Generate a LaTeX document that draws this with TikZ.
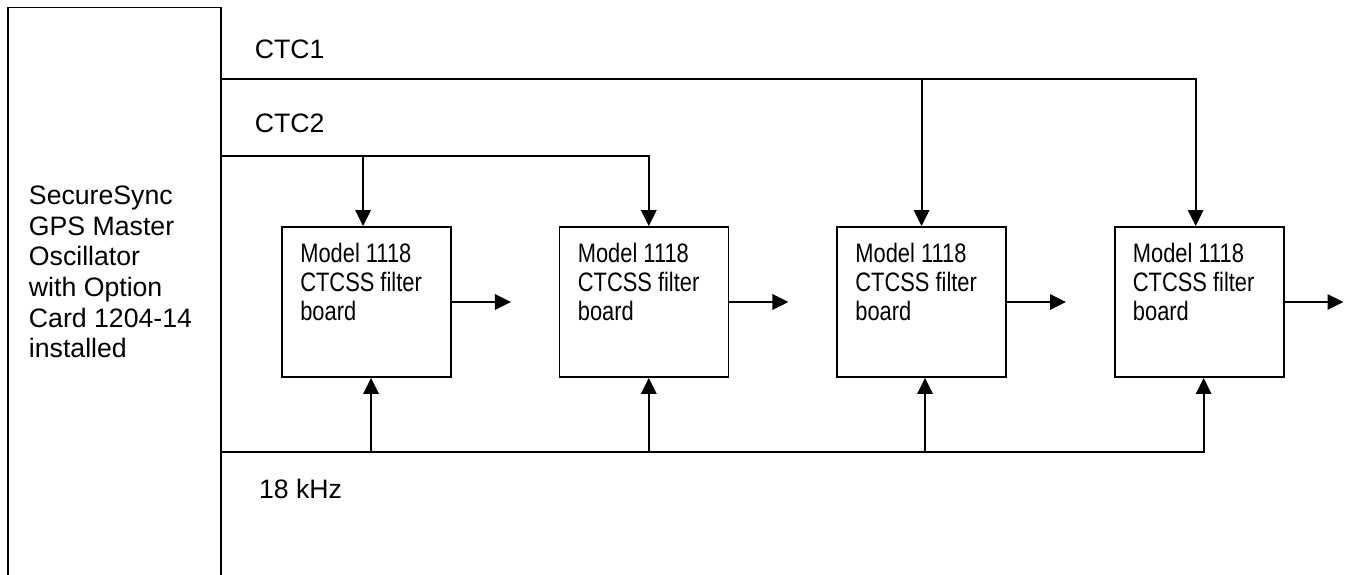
\documentclass[tikz,border=0pt]{standalone}
\usepackage{fontspec}
\setmainfont{Liberation Sans}
\newfontfamily\narrowsf[FakeStretch=0.82]{Liberation Sans}
\usetikzlibrary{arrows.meta, positioning}

\tikzset{
  board/.style={draw, line width=1.4pt, minimum width=126.75pt, minimum height=112.5pt, inner sep=0pt},
  boardtext/.style={inner sep=0pt, align=left, font=\narrowsf\fontsize{20}{21.75}\selectfont},
  sig/.style={line width=1.5pt, -{Triangle[length=12pt, width=11.5pt]}},
  lbl/.style={inner sep=0pt, anchor=base west, font=\fontsize{20}{24}\selectfont}
}

\begin{document}
\begin{tikzpicture}[x=0.75pt, y=-0.75pt]
	\clip (0,0) rectangle (1347,575);

	% Draw the oscillator box (runs off the bottom)
	\node[draw, line width=1.1pt, minimum width=159.75pt, minimum height=459pt, inner sep=0pt] (osc) at (114.5,313.7) {};
	\node[anchor=north west, inner sep=0pt, align=left, font=\fontsize{20}{23}\selectfont] (osctext) at (28.7,185.5)
		{SecureSync\\GPS Master\\Oscillator\\with Option\\Card 1204-14\\installed};

	% Draw the filter boards
	\node[board] (b1) at (366.5,302) {};
	\node[board, right=80pt of b1] (b2) {};
	\node[board, right=80pt of b2] (b3) {};
	\node[board, right=80pt of b3] (b4) {};

	\foreach \b in {b1,b2,b3,b4} {
		\node[boardtext, below right=12.75pt and 14.25pt of \b.north west] (\b text) {Model 1118\\CTCSS filter\\board};
		\coordinate[right=44.25pt of \b] (\b out);
		\draw[sig] (\b) -- (\b out);
	}

	% Arrow contact points on the boards
	\coordinate (in1) at ([xshift=-2.6pt]b1.north);
	\coordinate (in2) at ([xshift=3.6pt]b2.north);
	\coordinate (in3) at (b3.north);
	\coordinate (in4) at ([xshift=-2.6pt]b4.north);
	\coordinate (ref1) at ([xshift=3.4pt]b1.south);
	\coordinate (ref2) at ([xshift=3.6pt]b2.south);
	\coordinate (ref3) at ([xshift=2.6pt]b3.south);
	\coordinate (ref4) at ([xshift=3.4pt]b4.south);

	% CTC1 to boards 3 and 4
	\node[lbl] (ctc1) at (254.5,58) {CTC1};
	\draw[sig] (osc.east |- 0,79) -| (in4);
	\draw[sig] (in3 |- 0,79) -- (in3);

	% CTC2 to boards 1 and 2
	\node[lbl] (ctc2) at (254.5,132) {CTC2};
	\draw[sig] (osc.east |- 0,156) -| (in2);
	\draw[sig] (in1 |- 0,156) -- (in1);

	% 18 kHz reference to all boards
	\node[lbl] (khz) at (258.8,498) {18 kHz};
	\draw[sig] (osc.east |- 0,451.5) -| (ref4);
	\draw[sig] (ref1 |- 0,451.5) -- (ref1);
	\draw[sig] (ref2 |- 0,451.5) -- (ref2);
	\draw[sig] (ref3 |- 0,451.5) -- (ref3);

\end{tikzpicture}
\end{document}
